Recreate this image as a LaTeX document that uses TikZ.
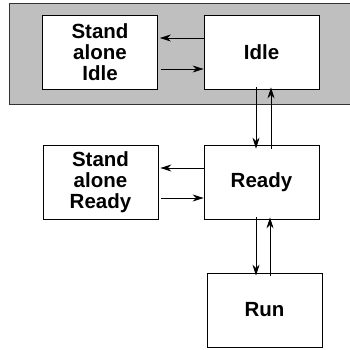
\documentclass[tikz,border=0pt]{standalone}
\usepackage{fontspec}
\setmainfont{Liberation Sans}
\usetikzlibrary{arrows.meta}
\begin{document}
\begin{tikzpicture}[x=1pt,y=-1pt,
  statebox/.style={draw=black,fill=white,line width=0.8pt,minimum width=115pt,minimum height=74pt,inner sep=0pt,align=center,font=\fontsize{20.5}{21}\selectfont\bfseries},
  conn/.style={-{Stealth[length=11pt,width=7pt,inset=3.5pt]},line width=0.75pt}]
\useasboundingbox (0,0) rectangle (350,350);
\fill[fill=black!25] (9,3) rectangle (352,104);
\draw[line width=0.8pt,draw=black!80] (352,3) -- (9,3) -- (9,104) -- (352,104);
\node[statebox] (sai) at (100,52) {Stand\\alone\\Idle};
\node[statebox] (idle) at (261.5,52) {Idle};
\node[statebox] (sar) at (100.5,182) {Stand\\alone\\Ready};
\node[statebox] (ready) at (261.5,182) {Ready};
\node[statebox] (run) at (264.5,310) {Run};
\draw[conn] (idle.west |- 0,38) -- ([xshift=2pt]sai.east |- 0,38);
\draw[conn] ([xshift=3pt]sai.east |- 0,69) -- (idle.west |- 0,69);
\draw[conn] (ready.west |- 0,168) -- ([xshift=2pt]sar.east |- 0,168);
\draw[conn] ([xshift=3pt]sar.east |- 0,198) -- (ready.west |- 0,198);
\draw[conn] ([yshift=2pt]idle.south -| 256,0) -- ([yshift=-4pt]ready.north -| 256,0);
\draw[conn] ([yshift=-4pt]ready.north -| 271,0) -- ([yshift=2pt]idle.south -| 271,0);
\draw[conn] ([yshift=2pt]ready.south -| 256,0) -- ([yshift=-3pt]run.north -| 256,0);
\draw[conn] ([yshift=-3pt]run.north -| 270,0) -- ([yshift=2pt]ready.south -| 270,0);
\end{tikzpicture}
\end{document}
